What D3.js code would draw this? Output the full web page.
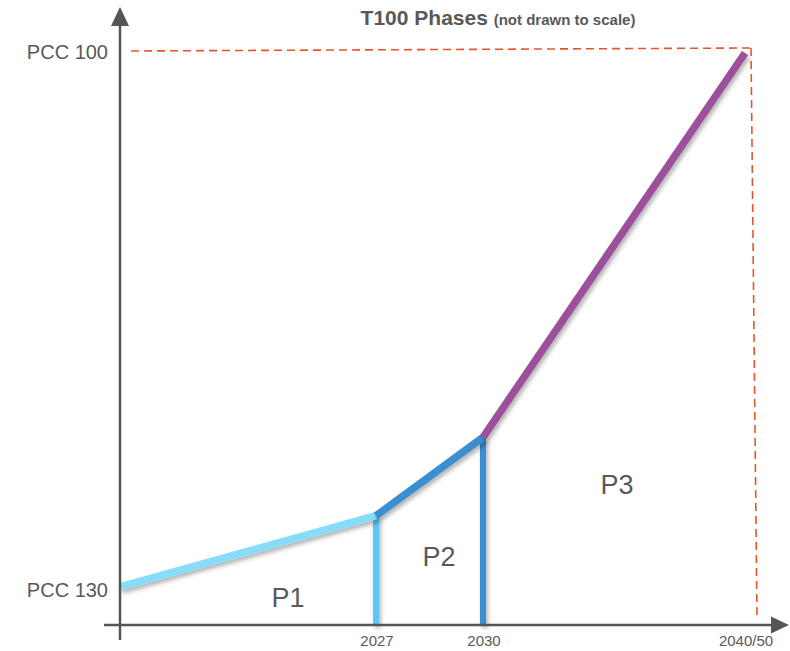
<!DOCTYPE html>
<html>
<head>
<meta charset="utf-8">
<script src="https://cdn.jsdelivr.net/npm/d3@7"></script>
<style>
  body { margin: 0; background: #fff; }
  svg { display: block; font-family: "Liberation Sans", Arial, sans-serif; }
</style>
</head>
<body>
<div id="chart"></div>
<script>
// phase boundaries (schematic, not to scale)
const years = [2020, 2027, 2030, 2045];
const yearLabels = ['', '2027', '2030', '2040/50'];
const pccValues = [130, 126, 121.6, 100];
const yTicks = [100, 130];
const yTickLabels = ['PCC 100', 'PCC 130'];
const phaseNames = ['P1', 'P2', 'P3'];
const segColors = ['#86dcf9', '#3b8fd1', '#9c4f9b'];
const dropColors = ['#5bc8f2', '#3b8fd1'];

const width = 790, height = 651;
const origin = {x: 120, y: 625};

const svg = d3.select('#chart').append('svg')
    .attr('width', width)
    .attr('height', height);

const defs = svg.append('defs');
const f = defs.append('filter').attr('id', 'shadow')
    .attr('filterUnits', 'userSpaceOnUse')
    .attr('x', 0).attr('y', 0).attr('width', width).attr('height', height);
f.append('feDropShadow')
    .attr('dx', 2).attr('dy', 3).attr('stdDeviation', 2)
    .attr('flood-color', '#000').attr('flood-opacity', 0.3);

// x is schematic: piecewise linear
const x = d3.scaleLinear()
    .domain(years)
    .range([origin.x, 376, 483, 745]);
const y = d3.scaleLinear()
    .domain([132.2, 100])
    .range([626, 53]);

const axisColor = '#555';
const textColor = '#595959';

// dashed target lines
const dash = svg.append('g')
    .attr('stroke', '#e8542a')
    .attr('stroke-width', 1.6)
    .attr('stroke-dasharray', '8,5')
    .attr('fill', 'none');
dash.append('line')
    .attr('x1', origin.x + 11).attr('y1', y(100) - 2)
    .attr('x2', x(years[3]) + 6).attr('y2', y(100) - 5);
dash.append('line')
    .attr('x1', x(years[3]) + 6).attr('y1', y(100) - 5)
    .attr('x2', x(years[3]) + 12).attr('y2', origin.y - 7);

// vertical drops at phase boundaries
svg.selectAll('.drop')
  .data([1, 2])
  .enter().append('line')
    .attr('class', 'drop')
    .attr('x1', i => x(years[i])).attr('x2', i => x(years[i]))
    .attr('y1', i => y(pccValues[i])).attr('y2', origin.y)
    .attr('stroke', (i, k) => dropColors[k])
    .attr('stroke-width', 6)
    .attr('filter', 'url(#shadow)');

// phase segments
svg.selectAll('.seg')
  .data([0, 1, 2])
  .enter().append('line')
    .attr('class', 'seg')
    .attr('x1', i => x(years[i])).attr('y1', i => y(pccValues[i]))
    .attr('x2', i => x(years[i + 1])).attr('y2', i => y(pccValues[i + 1]))
    .attr('stroke', i => segColors[i])
    .attr('stroke-width', 7.5)
    .attr('filter', 'url(#shadow)');

// axes
svg.append('line')
    .attr('x1', 104).attr('y1', origin.y)
    .attr('x2', 774).attr('y2', origin.y)
    .attr('stroke', axisColor).attr('stroke-width', 2.5);
svg.append('path')
    .attr('d', `M789,${origin.y} L771,${origin.y - 8.5} L771,${origin.y + 8.5} Z`)
    .attr('fill', axisColor);
svg.append('line')
    .attr('x1', origin.x).attr('y1', 640)
    .attr('x2', origin.x).attr('y2', 22)
    .attr('stroke', axisColor).attr('stroke-width', 2.5);
svg.append('path')
    .attr('d', `M${origin.x},7 L${origin.x - 9},26 L${origin.x + 9},26 Z`)
    .attr('fill', axisColor);

// y labels
svg.selectAll('.ylab')
  .data(yTicks)
  .enter().append('text')
    .attr('class', 'ylab')
    .attr('x', origin.x - 12)
    .attr('y', (d, i) => y(d) + (i === 0 ? 6 : 10))
    .attr('text-anchor', 'end')
    .attr('fill', textColor)
    .style('font-size', '20px')
    .text((d, i) => yTickLabels[i]);

// x labels
svg.selectAll('.xlab')
  .data([1, 2, 3])
  .enter().append('text')
    .attr('class', 'xlab')
    .attr('x', i => x(years[i]) + 1)
    .attr('y', 646)
    .attr('text-anchor', 'middle')
    .attr('fill', textColor)
    .style('font-size', '15px')
    .text(i => yearLabels[i]);

// phase names
const phasePos = [[288, 607], [439, 566], [617, 494]];
svg.selectAll('.phase')
  .data(phaseNames)
  .enter().append('text')
    .attr('class', 'phase')
    .attr('x', (d, i) => phasePos[i][0])
    .attr('y', (d, i) => phasePos[i][1])
    .attr('text-anchor', 'middle')
    .attr('fill', textColor)
    .style('font-size', '27px')
    .text(d => d);

// title
const title = svg.append('text')
    .attr('x', 498).attr('y', 25)
    .attr('text-anchor', 'middle')
    .attr('fill', textColor)
    .style('font-weight', 'bold');
title.append('tspan').style('font-size', '21px').text('T100 Phases ');
title.append('tspan').style('font-size', '15px').text('(not drawn to scale)');
</script>
</body>
</html>
